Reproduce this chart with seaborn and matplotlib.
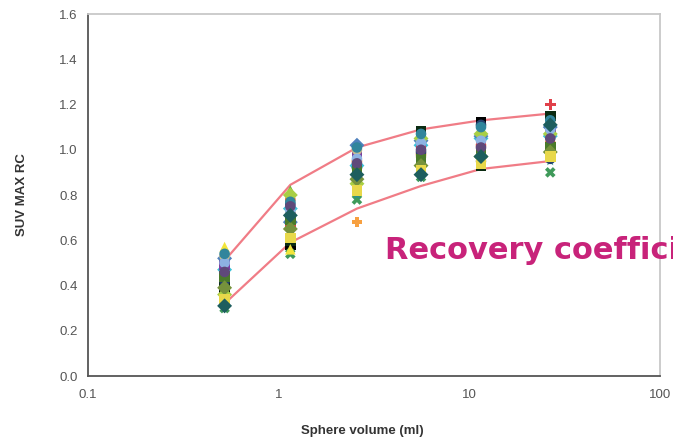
import matplotlib
matplotlib.use("Agg")
import matplotlib.pyplot as plt
import seaborn as sns
import pandas as pd
from matplotlib.ticker import FixedLocator, NullLocator, FixedFormatter

# ---- data ----
volumes = [0.52, 1.15, 2.57, 5.57, 11.49, 26.52]
upper_bound = [0.51, 0.845, 1.01, 1.09, 1.13, 1.16]
lower_bound = [0.32, 0.59, 0.74, 0.84, 0.915, 0.95]

s01 = [0.38, 0.58, 0.83, 0.92, 1.12, 0.98]
s02 = [0.40, 0.60, 0.86, 1.08, 0.93, 1.15]
s03 = [0.45, 0.78, 0.95, 0.98, 1.02, 1.03]
s04 = [0.47, 0.74, 0.93, 1.02, 1.05, 1.06]
s05 = [0.55, 0.82, 0.88, 0.95, 1.08, 1.00]
s06 = [0.49, 0.70, 0.99, 1.00, 1.00, 1.08]
s07 = [0.52, 0.68, 1.02, 1.04, 1.06, 1.10]
s08 = [0.43, 0.66, 0.90, 1.01, 1.03, 1.20]
s09 = [0.30, 0.54, 0.78, 0.88, 0.96, 0.90]
s10 = [0.57, 0.56, 0.97, 1.06, 1.09, 1.04]
s11 = [0.33, 0.64, 0.80, 0.90, 0.98, 0.95]
s12 = [0.35, 0.62, 0.68, 0.94, 1.00, 1.02]
s13 = [0.53, 0.72, 1.00, 0.97, 0.95, 1.12]
s14 = [0.42, 0.76, 0.92, 0.99, 1.11, 0.96]
s15 = [0.36, 0.80, 0.85, 1.05, 1.07, 1.07]
s16 = [0.50, 0.73, 0.96, 1.03, 1.04, 1.09]
s17 = [0.44, 0.69, 0.91, 0.96, 0.99, 1.01]
s18 = [0.39, 0.65, 0.87, 0.93, 0.97, 0.99]
s19 = [0.54, 0.77, 1.01, 1.07, 1.10, 1.13]
s20 = [0.34, 0.61, 0.82, 0.91, 0.94, 0.97]
s21 = [0.46, 0.75, 0.94, 1.00, 1.01, 1.05]
s22 = [0.31, 0.71, 0.89, 0.89, 0.97, 1.11]

series_names = ["s01", "s02", "s03", "s04", "s05", "s06", "s07", "s08",
                "s09", "s10", "s11", "s12", "s13", "s14", "s15", "s16",
                "s17", "s18", "s19", "s20", "s21", "s22"]
series_values = [s01, s02, s03, s04, s05, s06, s07, s08,
                 s09, s10, s11, s12, s13, s14, s15, s16,
                 s17, s18, s19, s20, s21, s22]

x_ticks = [0.1, 1, 10, 100]
x_tick_labels = ["0.1", "1", "10", "100"]
y_ticks = [0.0, 0.2, 0.4, 0.6, 0.8, 1.0, 1.2, 1.4, 1.6]
y_tick_labels = ["0.0", "0.2", "0.4", "0.6", "0.8", "1.0", "1.2", "1.4", "1.6"]

# ---- styles ----
colors = {
    "s01": "#000000", "s02": "#0B2B12", "s03": "#F26B21", "s04": "#3CC3D8",
    "s05": "#6FAE3C", "s06": "#7A3FA0", "s07": "#4F81BD", "s08": "#E0404A",
    "s09": "#3F9A5A", "s10": "#F2E53A", "s11": "#2E8F8F", "s12": "#F7A040",
    "s13": "#C9BE8E", "s14": "#26416E", "s15": "#A8CF45", "s16": "#8DB3E2",
    "s17": "#4A7A2A", "s18": "#76923C", "s19": "#31859C", "s20": "#E8D84A",
    "s21": "#5F497A", "s22": "#1D5E5E",
}
markers = {
    "s01": "s", "s02": "s", "s03": "o", "s04": "D", "s05": "^", "s06": "s",
    "s07": "D", "s08": "P", "s09": "X", "s10": "^", "s11": "*", "s12": "P",
    "s13": "o", "s14": "o", "s15": "D", "s16": "o", "s17": "s", "s18": "D",
    "s19": "o", "s20": "s", "s21": "o", "s22": "D",
}

rows = []
for name, vals in zip(series_names, series_values):
    for v, rc in zip(volumes, vals):
        rows.append({"volume": v, "rc": rc, "series": name})
df = pd.DataFrame(rows)

bounds = pd.DataFrame({
    "volume": volumes * 2,
    "rc": upper_bound + lower_bound,
    "bound": ["upper"] * len(volumes) + ["lower"] * len(volumes),
})

sns.set_style("white")
plt.rcParams["font.family"] = ["Liberation Sans", "DejaVu Sans"]

fig = plt.figure(figsize=(6.73, 4.42), dpi=100)
ax = fig.add_axes([0.1308, 0.1493, 0.8502, 0.8190])

sns.lineplot(data=bounds, x="volume", y="rc", units="bound", estimator=None,
             color="#F07C86", linewidth=1.6, ax=ax, zorder=1, sort=False)
sns.scatterplot(data=df, x="volume", y="rc", hue="series", style="series",
                palette=colors, markers=markers, s=58, linewidth=0.3,
                edgecolor="none", legend=False, ax=ax, zorder=3)

ax.set_xscale("log")
ax.set_xlim(0.1, 100)
ax.set_ylim(0, 1.6)
ax.xaxis.set_major_locator(FixedLocator(x_ticks))
ax.xaxis.set_major_formatter(FixedFormatter(x_tick_labels))
ax.xaxis.set_minor_locator(NullLocator())
ax.set_yticks(y_ticks)
ax.set_yticklabels(y_tick_labels)

for side in ["left", "bottom"]:
    ax.spines[side].set_color("#555555")
    ax.spines[side].set_linewidth(1.3)
for side in ["top", "right"]:
    ax.spines[side].set_visible(True)
    ax.spines[side].set_color("#C8C8C8")
    ax.spines[side].set_linewidth(1.3)

ax.tick_params(axis="both", which="major", direction="out", length=4,
               width=1, color="#555555", labelcolor="#555555", labelsize=9.5)
ax.tick_params(axis="x", pad=5)

ax.set_xlabel("Sphere volume (ml)", fontsize=9.5, fontweight="bold", color="#333333")
ax.set_ylabel("SUV MAX RC", fontsize=9.5, fontweight="bold", color="#333333")
ax.xaxis.set_label_coords(0.48, -0.135)
ax.yaxis.set_label_coords(-0.105, 0.5)

# the reference shows this annotation running off the right edge
fig.text(0.572, 0.434, "Recovery coefficient", color="#C8237A",
         fontsize=22, fontweight="bold", ha="left", va="center",
         family=["DejaVu Sans"])

fig.savefig("out.png", dpi=100)
